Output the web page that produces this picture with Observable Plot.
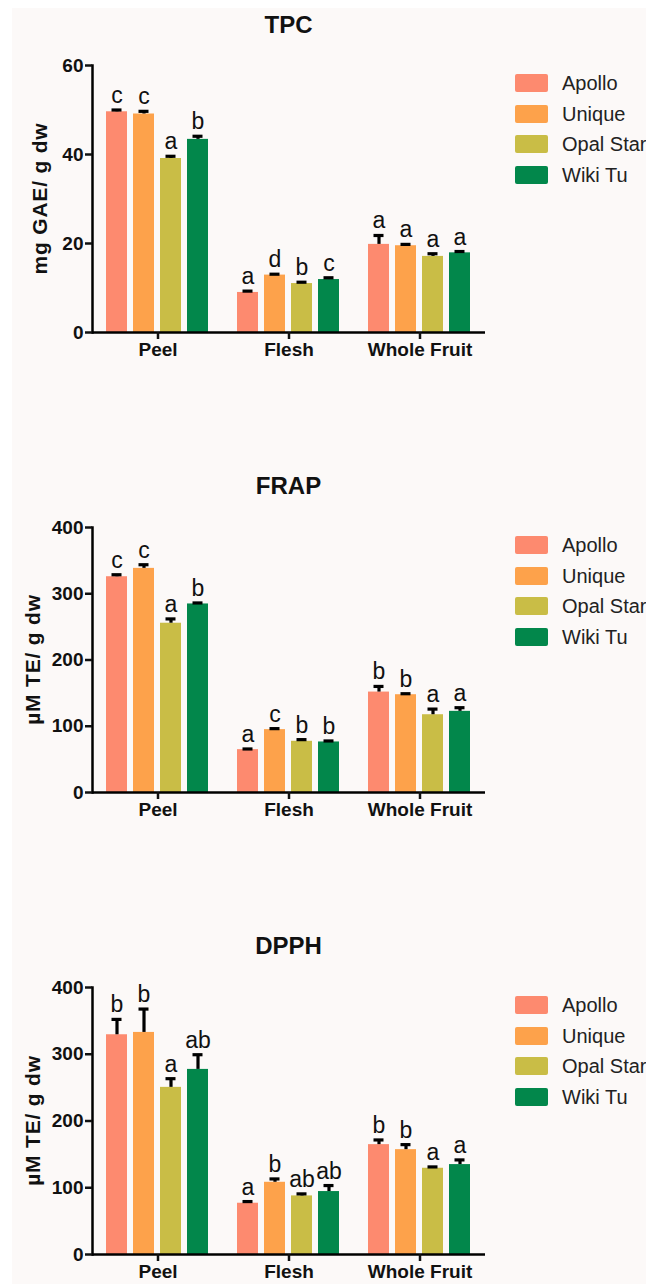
<!DOCTYPE html>
<html>
<head>
<meta charset="utf-8">
<script src="https://cdn.jsdelivr.net/npm/d3@7"></script>
<script src="https://cdn.jsdelivr.net/npm/@observablehq/plot@0.6"></script>
<style>
  body { margin: 0; background: #ffffff; font-family: "Liberation Sans", Arial, sans-serif; }
  #wrap { position: absolute; left: 12px; top: 8px; width: 634px; height: 1276px; background: #fcf9f8; overflow: hidden; }
  .title { position: absolute; left: 0; text-align: center; font-weight: bold; font-size: 24px; color: #111; line-height: 1; }
  .panel { position: absolute; left: 0; }
  .legend { position: absolute; left: 503px; }
  .row { position: absolute; left: 0; height: 18px; white-space: nowrap; }
  .sw { position: absolute; left: 0; top: 0; width: 33px; height: 18px; border-radius: 2px; }
  .lab { position: absolute; left: 47px; top: -2px; font-size: 20px; color: #222; line-height: 22px; }
</style>
</head>
<body>
<div id="wrap"></div>
<script>
// ---- data ----
const groups = ["Peel", "Flesh", "Whole Fruit"];
const cultivars = ["Apollo", "Unique", "Opal Star", "Wiki Tu"];
const colors = ["#fd8a6f", "#fda24b", "#c9bd46", "#02874b"];

const assays = ["TPC", "FRAP", "DPPH"];
const yLabels = ["mg GAE/ g dw", "\u00b5M TE/ g dw", "\u00b5M TE/ g dw"];
const yMax = [60, 400, 400];
const yTicks = [[0, 20, 40, 60], [0, 100, 200, 300, 400], [0, 100, 200, 300, 400]];

// rows = groups (Peel, Flesh, Whole Fruit), columns = cultivars
const tpcMean = [[49.6, 49.1, 39.1, 43.4], [9.0, 12.9, 11.0, 11.9], [19.8, 19.5, 17.1, 17.9]];
const tpcSd   = [[0.4, 0.6, 0.5, 0.7], [0.3, 0.2, 0.3, 0.4], [2.0, 0.3, 0.6, 0.3]];
const tpcLet  = [["c", "c", "a", "b"], ["a", "d", "b", "c"], ["a", "a", "a", "a"]];

const frapMean = [[325.7, 338.3, 255.5, 284.6], [64.7, 94.9, 77.3, 76.3], [151.6, 147.6, 117.4, 122.5]];
const frapSd   = [[3, 5.5, 6.5, 1.5], [1, 1.5, 2.5, 1.5], [8.5, 1.5, 8.5, 5.5]];
const frapLet  = [["c", "c", "a", "b"], ["a", "c", "b", "b"], ["b", "b", "a", "a"]];

const dpphMean = [[329.2, 332.7, 250.4, 277.3], [76.8, 108.2, 87.8, 94.3], [164.6, 157.1, 129.2, 134.7]];
const dpphSd   = [[23, 35, 13, 22], [2.5, 5, 3, 9], [7, 7.5, 2, 7]];
const dpphLet  = [["b", "b", "a", "ab"], ["a", "b", "ab", "ab"], ["b", "b", "a", "a"]];

const means = [tpcMean, frapMean, dpphMean];
const sds = [tpcSd, frapSd, dpphSd];
const lets = [tpcLet, frapLet, dpphLet];

// ---- layout (container coordinates) ----
const layout = [
  {titleY: 5, frameTop: 57, frameH: 267, legendTop: 66, yLabX: 35},
  {titleY: 466, frameTop: 519, frameH: 265, legendTop: 528, yLabX: 28},
  {titleY: 926, frameTop: 979, frameH: 267, legendTop: 988, yLabX: 28}
];
const mTop = 20, mBottom = 42, mLeft = 79, mRight = 160, W = 634;
const font = "'Liberation Sans', Arial, Helvetica, sans-serif";

const wrap = document.getElementById("wrap");

assays.forEach((name, k) => {
  const L = layout[k];
  const data = [];
  groups.forEach((g, i) => cultivars.forEach((c, j) => {
    data.push({group: g, cultivar: c, value: means[k][i][j], sd: sds[k][i][j], letter: lets[k][i][j]});
  }));

  const title = document.createElement("div");
  title.className = "title";
  title.style.top = L.titleY + "px";
  title.style.left = "0px";
  title.style.width = (2 * (mLeft + (W - mLeft - mRight) / 2)) + "px";
  title.textContent = name;
  wrap.appendChild(title);

  const chart = Plot.plot({
    width: W,
    height: mTop + L.frameH + mBottom,
    marginLeft: mLeft,
    marginRight: mRight,
    marginTop: mTop,
    marginBottom: mBottom,
    style: {background: "transparent", fontFamily: font, color: "#111", overflow: "visible"},
    fx: {domain: groups, paddingInner: 0, paddingOuter: 0, label: null, axis: null},
    x: {domain: cultivars, paddingInner: 0.214, paddingOuter: 0.477, axis: null},
    y: {domain: [0, yMax[k]], axis: null},
    color: {domain: cultivars, range: colors},
    marks: [
      Plot.barY(data, {fx: "group", x: "cultivar", y: "value", fill: "cultivar"}),
      Plot.ruleX(data, {fx: "group", x: "cultivar", y1: "value", y2: d => d.value + d.sd, stroke: "#000", strokeWidth: 3.2}),
      Plot.tickY(data, {fx: "group", x: "cultivar", y: d => d.value + d.sd, stroke: "#000", strokeWidth: 3.2, inset: 5.5}),
      Plot.text(data, {fx: "group", x: "cultivar", y: d => d.value + d.sd, text: "letter", lineAnchor: "bottom", dy: -7, fontSize: 23, fill: "#111"}),
      Plot.ruleY([0], {stroke: "#000", strokeWidth: 2.5}),
      Plot.frame({anchor: "left", facetAnchor: "left", stroke: "#000", strokeWidth: 2.5}),
      Plot.axisY({ticks: yTicks[k], tickSize: 7, tickPadding: 2, strokeWidth: 2.5, fontSize: 19, fontWeight: "bold", label: null, tickFormat: d => d}),
      Plot.axisFx({anchor: "bottom", tickSize: 7, tickPadding: 3, strokeWidth: 2.5, fontSize: 19, fontWeight: "bold", label: null})
    ]
  });
  chart.classList.add("panel");
  chart.style.top = (L.frameTop - mTop) + "px";
  chart.style.position = "absolute";
  chart.style.left = "0px";
  wrap.appendChild(chart);

  // y axis label (rotated) as SVG text inside the chart
  const svgNS = "http://www.w3.org/2000/svg";
  const t = document.createElementNS(svgNS, "text");
  t.setAttribute("transform", `translate(${L.yLabX},${mTop + L.frameH / 2}) rotate(-90)`);
  t.setAttribute("text-anchor", "middle");
  t.setAttribute("font-size", "21");
  t.setAttribute("font-weight", "bold");
  t.setAttribute("letter-spacing", "0.8");
  t.setAttribute("font-family", font);
  t.setAttribute("fill", "#111");
  t.textContent = yLabels[k];
  chart.appendChild(t);

  // legend
  const leg = document.createElement("div");
  leg.className = "legend";
  leg.style.top = L.legendTop + "px";
  cultivars.forEach((c, j) => {
    const row = document.createElement("div");
    row.className = "row";
    row.style.top = (j * 30.5) + "px";
    const sw = document.createElement("div");
    sw.className = "sw";
    sw.style.background = colors[j];
    const lab = document.createElement("div");
    lab.className = "lab";
    lab.textContent = c;
    row.appendChild(sw);
    row.appendChild(lab);
    leg.appendChild(row);
  });
  wrap.appendChild(leg);
});
</script>
</body>
</html>
